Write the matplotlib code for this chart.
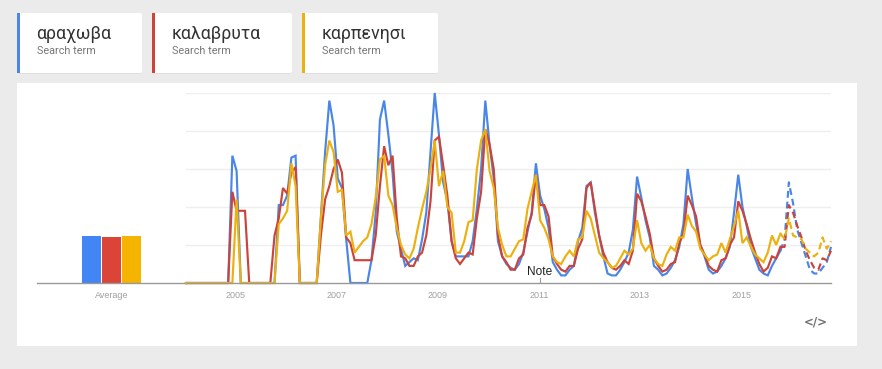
import numpy as np
import matplotlib.pyplot as plt
from matplotlib.patches import Rectangle, FancyBboxPatch

W, H = 882, 369

terms = ['αραχωβα', 'καλαβρυτα', 'καρπενησι']
subtitle = 'Search term'
colors = ['#4a86e8', '#cc4439', '#ecb00f']
bar_colors = ['#4285f4', '#db4437', '#f4b400']
averages = [25, 24, 25]
year_labels = ['2005', '2007', '2009', '2011', '2013', '2015']
year_months = [11.7, 35.7, 59.7, 83.7, 107.7, 131.7]
note_month = 84
last_solid = 141

# monthly values, Jan 2004 onwards
arachova = [0, 0, 0, 0, 0, 0, 0, 0, 0, 0, 0, 67, 59, 0, 0, 0, 0, 0, 0, 0, 0, 0, 41, 41, 46, 66, 67, 0, 0, 0, 0, 0,
            35, 69, 96, 83, 55, 50, 23, 0, 0, 0, 0, 0, 12, 37, 86, 96, 78, 58, 27, 18, 9, 11, 13, 12, 23, 37, 69, 100,
            78, 53, 43, 22, 14, 14, 14, 14, 22, 39, 60, 96, 73, 55, 22, 14, 10, 8, 7, 10, 16, 27, 37, 63, 46, 39, 29, 11,
            7, 4, 4, 7, 9, 22, 29, 51, 53, 37, 25, 14, 5, 4, 4, 7, 11, 16, 28, 56, 45, 33, 24, 9, 7, 4, 5, 8, 12, 19,
            31, 60, 45, 31, 20, 14, 7, 5, 6, 9, 13, 19, 37, 57, 40, 30, 19, 13, 7, 5, 4, 9, 13, 17, 23, 53, 42, 28,
            21, 14, 7, 5, 5, 8, 11, 19]
kalavryta = [0, 0, 0, 0, 0, 0, 0, 0, 0, 0, 0, 48, 38, 38, 38, 0, 0, 0, 0, 0, 0, 25, 34, 50, 47, 58, 61, 0, 0, 0, 0, 0,
             25, 44, 51, 60, 65, 58, 24, 21, 12, 12, 12, 12, 12, 25, 51, 72, 62, 67, 34, 14, 13, 9, 9, 14, 16, 25, 43, 75,
             77, 62, 46, 22, 13, 10, 13, 16, 15, 34, 48, 81, 73, 60, 25, 14, 11, 7, 7, 13, 15, 29, 36, 57, 41, 41, 35, 14,
             10, 7, 6, 9, 9, 18, 23, 50, 53, 39, 25, 16, 11, 8, 7, 9, 12, 10, 17, 47, 43, 35, 26, 13, 9, 6, 7, 10, 11, 21,
             26, 46, 41, 35, 20, 15, 9, 7, 6, 12, 13, 20, 24, 43, 38, 31, 23, 16, 10, 6, 8, 14, 13, 19, 19, 41, 37, 30,
             24, 17, 12, 8, 7, 13, 12, 17]
karpenisi = [0, 0, 0, 0, 0, 0, 0, 0, 0, 0, 0, 0, 44, 0, 0, 0, 0, 0, 0, 0, 0, 0, 31, 34, 38, 63, 51, 0, 0, 0, 0, 0,
             34, 62, 75, 69, 48, 49, 25, 27, 16, 19, 22, 24, 31, 45, 65, 67, 46, 41, 29, 20, 15, 13, 18, 29, 39, 48, 60, 75,
             51, 59, 40, 37, 16, 16, 22, 32, 33, 60, 75, 81, 59, 50, 29, 20, 14, 14, 18, 22, 23, 39, 48, 57, 33, 29, 23, 14,
             11, 10, 14, 17, 14, 23, 24, 38, 34, 25, 16, 13, 11, 8, 9, 13, 17, 15, 18, 33, 21, 17, 20, 13, 10, 9, 15, 19,
             17, 24, 24, 36, 30, 27, 18, 15, 12, 14, 15, 21, 16, 23, 30, 38, 21, 24, 19, 15, 13, 11, 16, 25, 20, 26, 23, 34,
             25, 24, 23, 18, 16, 14, 16, 24, 18, 22]
series = [arachova, kalavryta, karpenisi]


def px_axes(x0, y0, x1, y1):
    return fig.add_axes([x0 / W, 1 - y1 / H, (x1 - x0) / W, (y1 - y0) / H])


fig = plt.figure(figsize=(W / 100, H / 100), dpi=100, facecolor='#ebebeb')

# page layer in pixel coordinates
bg = fig.add_axes([0, 0, 1, 1])
bg.set_xlim(0, W)
bg.set_ylim(H, 0)
bg.axis('off')
bg.add_patch(Rectangle((17, 83), 840, 263, fc='white', ec='none'))

card_left = [17, 152, 302]
card_right = [142, 292, 438]
for i in range(3):
    x0, x1 = card_left[i], card_right[i]
    bg.add_patch(FancyBboxPatch((x0 + 1, 15), x1 - x0 - 2, 59, boxstyle='round,pad=0,rounding_size=2',
                                fc='#dedede', ec='none'))
    bg.add_patch(FancyBboxPatch((x0 + 1, 14), x1 - x0 - 2, 58, boxstyle='round,pad=1,rounding_size=2',
                                fc='white', ec='none'))
    bg.add_patch(Rectangle((x0, 13), 3, 60, fc=colors[i], ec='none'))
    bg.text(x0 + 19.5, 34, terms[i], fontsize=12.8, family='Roboto', color='#333333', va='center')
    bg.text(x0 + 20, 51, subtitle, fontsize=7.8, family='Roboto', color='#777777', va='center')

bg.text(815.5, 322, '</>', fontsize=8.5, family='DejaVu Sans', weight='bold', color='#707070',
        ha='center', va='center')

# average bars, same vertical scale as the line chart
ax_bar = px_axes(37, 93, 186, 283)
ax_bar.patch.set_alpha(0)
ax_bar.bar([0, 1, 2], averages, width=0.95, color=bar_colors, zorder=2)
ax_bar.set_xlim(-2.725, 4.725)
ax_bar.set_ylim(0, 100)
ax_bar.set_yticks([])
ax_bar.set_xticks([1])
ax_bar.set_xticklabels(['Average'], fontsize=6.5, family='Liberation Sans', color='#a0a0a0')
ax_bar.tick_params(axis='x', length=0, pad=5.5)
for s in ['top', 'left', 'right']:
    ax_bar.spines[s].set_visible(False)
ax_bar.spines['bottom'].set_color('#999999')
ax_bar.spines['bottom'].set_linewidth(1)

# trend lines
ax = px_axes(186, 93, 831, 283)
ax.patch.set_alpha(0)
months = np.arange(len(arachova))
for vals, c in zip(series, colors):
    vals = np.array(vals)
    ax.plot(months[:last_solid + 1], vals[:last_solid + 1], color=c, lw=1.55, solid_joinstyle='miter', clip_on=False)
    ax.plot(months[last_solid:], vals[last_solid:], color=c, lw=1.55, ls=(0, (3.2, 1.8)), clip_on=False)

ax.set_xlim(0, 153)
ax.set_ylim(0, 100)
ax.set_yticks([20, 40, 60, 80, 100])
ax.set_yticklabels([])
ax.set_xticks(year_months)
ax.set_xticklabels(year_labels, fontsize=6.5, family='Liberation Sans', color='#a0a0a0')
ax.tick_params(axis='x', length=0, pad=5.5)
ax.tick_params(axis='y', length=0)
ax.grid(axis='y', color='#eeeeee', lw=1)
ax.set_axisbelow(True)
for s in ['top', 'left', 'right']:
    ax.spines[s].set_visible(False)
ax.spines['bottom'].set_color('#999999')
ax.spines['bottom'].set_linewidth(1)

# note marker
ax.plot([note_month, note_month], [0, 2.6], color='#999999', lw=0.8)
ax.text(note_month, 2.4, 'Note', fontsize=8.6, family='Liberation Sans', color='#222222', ha='center', va='bottom')

fig.savefig('out.png', dpi=100, facecolor=fig.get_facecolor())
